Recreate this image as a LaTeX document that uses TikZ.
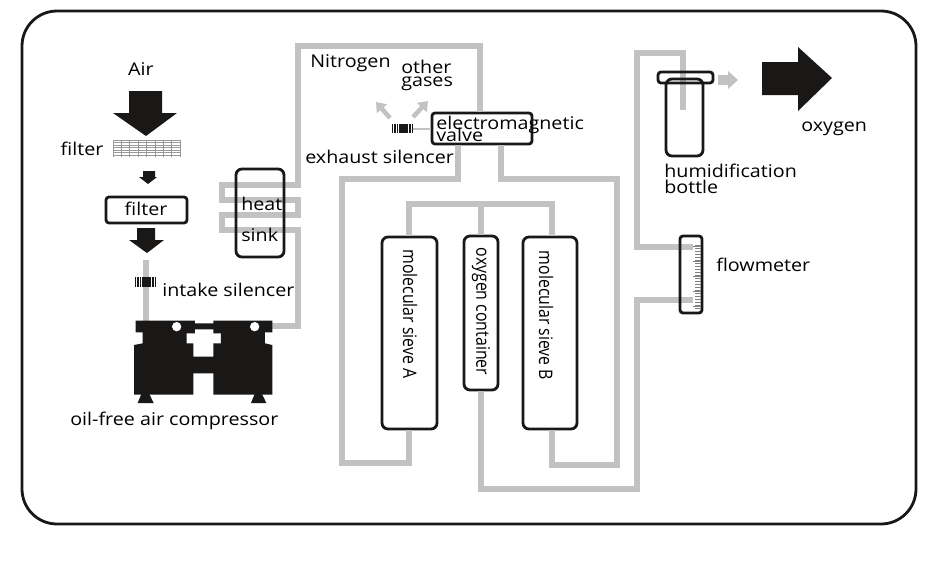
\documentclass[tikz,border=0pt]{standalone}
\usepackage{fontspec}
\setmainfont{Open Sans}
\usetikzlibrary{arrows.meta,calc}
\definecolor{pipegrey}{HTML}{C2C2C2}
\definecolor{inkblack}{HTML}{1A1717}
\def\px{0.75pt}
\setlength{\lineskiplimit}{-100pt}
\tikzset{
  pipe/.style={draw=pipegrey,line width=6.8*\px,line cap=butt,line join=miter},
  box/.style={draw=inkblack,line width=2.8*\px,rounded corners=6*\px,inner sep=0pt,fill=white},
  openbox/.style={draw=inkblack,line width=2.8*\px,rounded corners=6*\px,inner sep=0pt},
  lab/.style={inner sep=0pt,text=black,font=\fontsize{13.2}{9.5}\selectfont,align=left,xscale=1.12,transform shape},
  sidelab/.style={inner sep=0pt,text=black,rotate=-90,font=\fontsize{14}{14}\selectfont,xscale=0.85,transform shape},
  solidarrow/.style={fill=inkblack},
  vent/.style={draw=pipegrey,line width=4.5*\px,-{Triangle[length=9*\px,width=13*\px]}},
  stripe/.style={draw=inkblack,line width=1.1*\px},
}
\begin{document}
\begin{tikzpicture}[x=0.75pt,y=-0.75pt]
\useasboundingbox (0,0) rectangle (943,569);
\fill[white] (0,0) rectangle (943,569);
% enclosure
\node[openbox,rounded corners=35*\px,minimum width=894*\px,minimum height=513*\px] (frame) at (469,267.5) {};

% components with pipes ending on their edges
\node[box,minimum width=55*\px,minimum height=192*\px] (sieveA) at (409.5,333) {};
\node[box,minimum width=34*\px,minimum height=154*\px] (tank) at (481,313) {};
\node[box,minimum width=54*\px,minimum height=192*\px] (sieveB) at (550,333) {};
\node[box,rounded corners=3*\px,minimum width=100*\px,minimum height=31*\px] (valve) at (482,128.5) {};

% pipe end points
\coordinate (topL) at (298,46);
\coordinate (topR) at (480,46);
\coordinate (compOut) at (272,326);
\coordinate (intakeTop) at (146,260);
\coordinate (compIn) at (146,322);
\coordinate (ventEnd) at (413,129);
\coordinate (fmUp) at (693,247);
\coordinate (fmLow) at (693,300);
\coordinate (dip) at (683,110);
\coordinate (vl) at (458,0);
\coordinate (vr) at (501,0);
\coordinate (ax) at (409,0);
\coordinate (bx) at (552,0);

\draw[pipe] (compOut) -- (298,326) -- (298,230) -- (222,230) -- (222,215) -- (298,215) -- (298,200) -- (222,200) -- (222,185) -- (298,185) -- (topL) -- (topR) -- (topR |- valve.north);
\draw[pipe] (intakeTop) -- (compIn);
\draw[pipe] (valve.south -| vl) -- (458,179) -- (342,179) -- (342,463) -- (409,463) -- (sieveA.south -| ax);
\draw[pipe] (valve.south -| vr) -- (501,179) -- (617,179) -- (617,465) -- (552,465) -- (sieveB.south -| bx);
\draw[pipe] (sieveA.north -| ax) -- (409,204) -- (552,204) -- (sieveB.north -| bx);
\draw[pipe] (481,204) -- (tank.north);
\draw[pipe] (tank.south) -- (481,489) -- (637,489) -- (637,300) -- (fmLow);
\draw[pipe] (fmUp) -- (637,247) -- (637,53) -- (683,53) -- (dip);
\draw[draw=pipegrey,line width=1.5*\px] (ventEnd) -- (valve.west |- ventEnd);

% components the pipes pass through
\node[openbox,minimum width=48*\px,minimum height=88*\px] (sink) at (260,213) {};
\node[box,rounded corners=3*\px,minimum width=81*\px,minimum height=26*\px] (filterbox) at (146.5,210) {};
\node[openbox,rounded corners=3*\px,minimum width=22*\px,minimum height=77*\px] (flow) at (691,274.5) {};
\node[openbox,rounded corners=3*\px,minimum width=55*\px,minimum height=11*\px] (cap) at (685.5,77.5) {};
\node[openbox,rounded corners=6*\px,minimum width=37*\px,minimum height=77*\px] (bottle) at (684.5,117.5) {};

% flowmeter scale
\foreach \yy in {245,248,...,310}{\draw[draw=gray,line width=0.7*\px] (695,\yy) -- (701,\yy);}
\foreach \yy in {246,261,276,291,306}{\draw[draw=gray,line width=0.7*\px] (693,\yy) -- (701,\yy);}

% mesh filter
\foreach \xx in {113,121.4,...,181}{\draw[draw=gray!80,line width=0.8*\px] (\xx,140) -- (\xx,157);}
\foreach \yy in {140,142.5,...,157}{\draw[draw=gray!80,line width=0.8*\px] (113,\yy) -- (180,\yy);}

% solid arrows
\fill[solidarrow] (129,91) -- (162,91) -- (162,113) -- (177,113) -- (146,136) -- (113,113) -- (129,113) -- cycle;
\fill[solidarrow] (143,171) -- (155,171) -- (155,177) -- (157,177) -- (148,184) -- (139,177) -- (143,177) -- cycle;
\fill[solidarrow] (137,228) -- (155,228) -- (155,240) -- (164,240) -- (147,253) -- (129,240) -- (137,240) -- cycle;
\fill[solidarrow] (762,62) -- (798,62) -- (798,47) -- (832,78) -- (798,111) -- (798,95) -- (762,95) -- cycle;
\fill[pipegrey] (718,75) -- (728,75) -- (728,71) -- (738,80) -- (728,89) -- (728,85) -- (718,85) -- cycle;

% silencers
\foreach \xx in {135.5,138,...,157}{\draw[stripe] (\xx,277) -- (\xx,287);}
\fill[inkblack] (143,277) rectangle (150,287);
\foreach \xx in {392.5,395,...,413}{\draw[stripe] (\xx,124) -- (\xx,133);}
\fill[inkblack] (400,124) rectangle (407,133);

% vent arrows
\coordinate (ventA) at (390,118);
\coordinate (ventAt) at (376,102);
\coordinate (ventB) at (413,117);
\coordinate (ventBt) at (428,101);
\draw[vent] (ventA) -- (ventAt);
\draw[vent] (ventB) -- (ventBt);

% compressor
\begin{scope}[shift={(50,290)},scale=1/3]
\fill[inkblack,even odd rule]
  (257,92) -- (435,92) -- (435,100) -- (490,100) -- (490,92) -- (667,92) -- (667,127) -- (645,127) -- (645,160) -- (667,165) -- (667,314) -- (490,314) -- (490,250) -- (430,250) -- (430,314) -- (252,314) -- (252,165) -- (278,160) -- (278,127) -- (257,127) -- cycle
  (410,130) -- (435,130) -- (435,118) -- (490,118) -- (490,130) -- (513,130) -- (513,160) -- (490,160) -- (490,200) -- (430,200) -- (430,160) -- (410,160) -- cycle;
\fill[white] (380,110) circle (14);
\fill[white] (614,110) circle (14);
\fill[inkblack] (274,312) -- (263,339) -- (311,339) -- (298,312) -- cycle;
\fill[inkblack] (614,312) -- (603,339) -- (649,339) -- (636,312) -- cycle;
\end{scope}

% labels
\node[lab] (tAir) at (141,69) {Air};
\node[lab] (tFilter1) at (82,149) {filter};
\node[lab] (tFilter2) at (146,209) {filter};
\node[lab,anchor=west] (tHeat) at (241,204) {heat};
\node[lab,anchor=west] (tSink) at (241,235) {sink};
\node[lab,anchor=west] (tIntake) at (162,290) {intake silencer};
\node[lab,anchor=west] (tComp) at (70,421) {oil-free air compressor};
\node[lab,anchor=west] (tNit) at (310,63) {Nitrogen};
\node[lab,anchor=west] (tOther) at (401,75.5) {other\\gases};
\node[lab,anchor=west] (tValve) at (436,129) {electromagnetic\\valve};
\node[lab,anchor=west] (tExh) at (305,157) {exhaust silencer};
\node[lab,anchor=west] (tHum) at (664,179) {humidification\\[2pt]bottle};
\node[lab,anchor=west] (tOxy) at (801,129) {oxygen};
\node[lab,anchor=west] (tFlow) at (716,265) {flowmeter};
\node[sidelab] (tA) at (410,314) {molecular sieve A};
\node[sidelab] (tC) at (481,311.5) {oxygen container};
\node[sidelab] (tB) at (546,315.5) {molecular sieve B};
\end{tikzpicture}
\end{document}
